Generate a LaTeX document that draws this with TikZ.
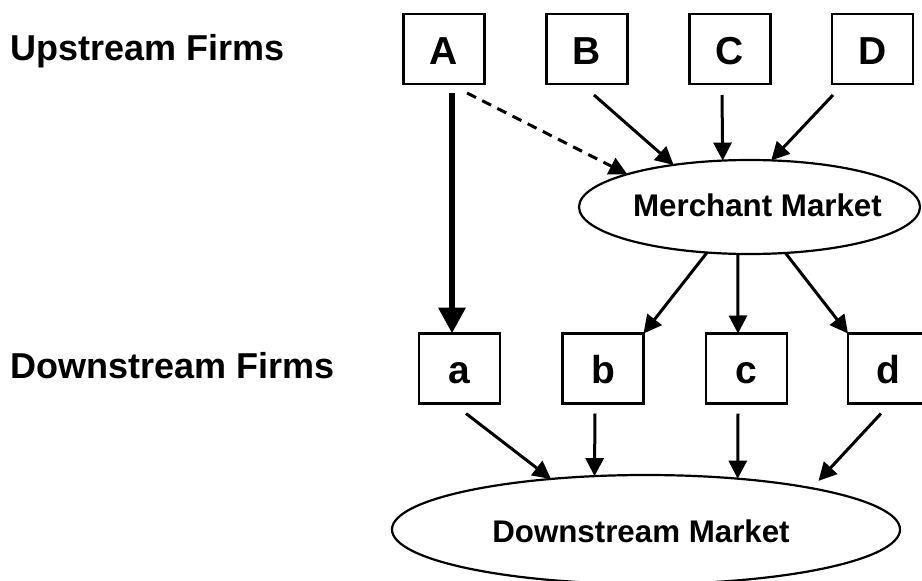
\documentclass[tikz,border=0pt]{standalone}
\usepackage{fontspec}
\setmainfont{Liberation Sans}
\usetikzlibrary{arrows.meta,shapes.geometric}
\begin{document}
\begin{tikzpicture}[x=1pt,y=-1pt,
  firm/.style={draw, line width=2.2pt, minimum width=81pt, minimum height=70pt, inner sep=0pt, outer sep=0pt,
    font=\fontsize{39}{40}\selectfont\bfseries, text height=30pt, text depth=0pt},
  market/.style={draw, ellipse, line width=2.2pt, inner sep=0pt, outer sep=0pt,
    font=\fontsize{31.3}{34}\selectfont\bfseries},
  arr/.style={line width=3pt, -{Triangle[length=18pt,width=18pt]}},
  thickarr/.style={line width=6.5pt, -{Triangle[length=26pt,width=26pt]}},
  lbl/.style={anchor=base west, inner sep=0pt, font=\fontsize{36}{40}\selectfont\bfseries}]
\useasboundingbox (0,0) rectangle (922,581);

\node[lbl] (up) at (10.5,60) {Upstream Firms};
\node[lbl] (down) at (10.5,378) {Downstream Firms};

\node[firm] (A) at (444,49) {A};
\node[firm] (B) at (587,49) {B};
\node[firm] (C) at (730,49) {C};
\node[firm] (D) at (872.5,49) {D};

\node[firm] (a) at (459.5,368.5) {a};
\node[firm] (b) at (603,368.5) {b};
\node[firm] (c) at (746.5,368.5) {c};
\node[firm] (d) at (888.5,368.5) {d};

\node[market, minimum width=341pt, minimum height=94pt, text height=23pt, text depth=5pt]
  (MM) at (749.5,207) {\makebox[0pt]{\hspace{16pt}Merchant Market}};
\node[market, minimum width=508pt, minimum height=109pt, text height=26pt, text depth=0pt]
  (DM) at (646,529.5) {\makebox[0pt]{Downstream Market\hspace{10pt}}};

\draw[thickarr] ([xshift=8pt,yshift=-9pt]A.south) -- ([xshift=-7.5pt]a.north);
\draw[arr, dash pattern=on 10pt off 7pt] ([xshift=23pt,yshift=-9pt]A.south) -- (MM.165.6);
\draw[arr] ([xshift=7pt,yshift=-11pt]B.south) -- (MM.151);
\draw[arr] ([xshift=-8pt,yshift=-11pt]C.south) -- (MM.120.7);
\draw[arr] ([xshift=-39.5pt,yshift=-11pt]D.south) -- (MM.65.2);

\draw[arr] (MM.227) -- (b.north east);
\draw[arr] (MM.256.2) -- ([xshift=-8.5pt]c.north);
\draw[arr] (MM.308.5) -- (d.north west);

\draw[arr] ([xshift=6.5pt,yshift=-10pt]a.south) -- (DM.152.8);
\draw[arr] ([xshift=-8pt,yshift=-10pt]b.south) -- (DM.134.6);
\draw[arr] ([xshift=-8.5pt,yshift=-10pt]c.south) -- (DM.29.6);
\draw[arr, shorten >=10pt] ([xshift=-7.5pt,yshift=-10pt]d.south) -- (DM.14.3);
\end{tikzpicture}
\end{document}
